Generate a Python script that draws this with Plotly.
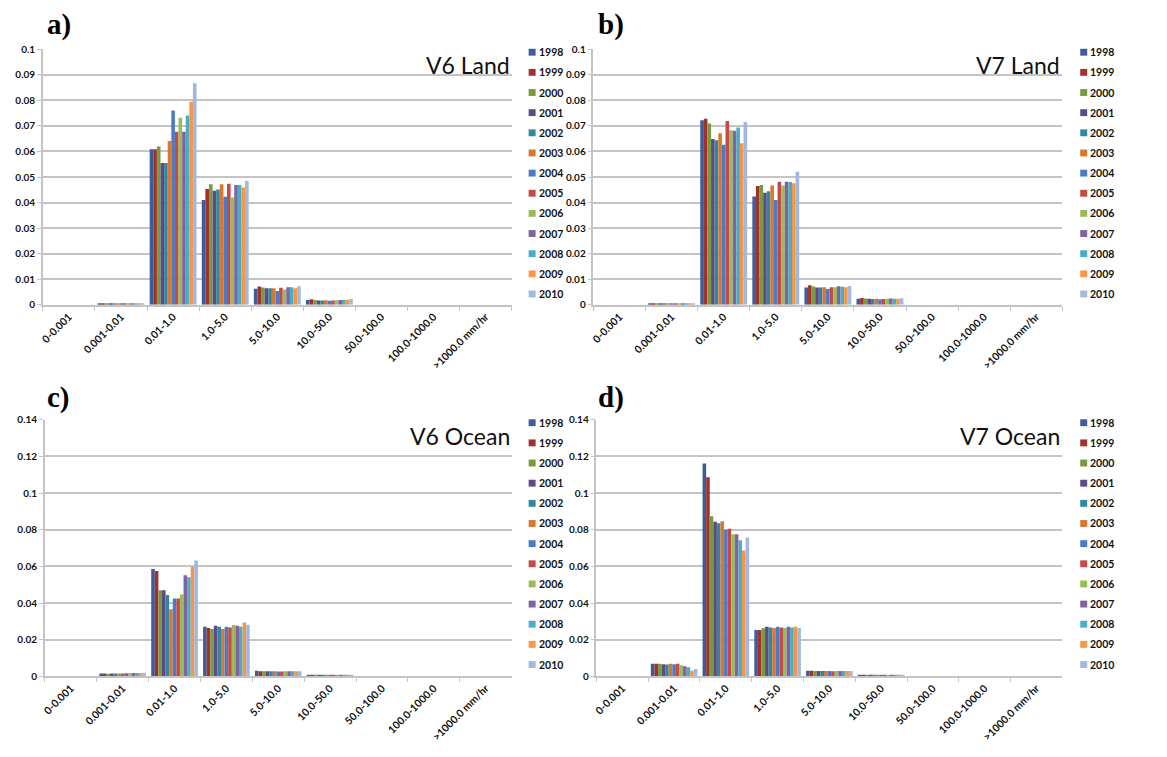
import plotly.graph_objects as go

categories = ["0-0.001", "0.001-0.01", "0.01-1.0", "1.0-5.0", "5.0-10.0",
              "10.0-50.0", "50.0-100.0", "100.0-1000.0", ">1000.0 mm/hr"]
years = ["1998", "1999", "2000", "2001", "2002", "2003", "2004",
         "2005", "2006", "2007", "2008", "2009", "2010"]
colors = ["#3D5C9C", "#A0312E", "#7A9A3E", "#5E4A86", "#2F88A0", "#D9772F",
          "#4A7BC8", "#C44A47", "#9BBB59", "#8064A2", "#4BACC6", "#F79646", "#A3B8DE"]

zeros = [0.0] * 13

# V6 Land (values per category, one per year 1998..2010)
v6_land_c1 = [0.0003, 0.0003, 0.0003, 0.0003, 0.0003, 0.0003, 0.0003, 0.0003, 0.0004, 0.0003, 0.0003, 0.0003, 0.0003]
v6_land_c2 = [0.0609, 0.0609, 0.0619, 0.0555, 0.0555, 0.0641, 0.0760, 0.0677, 0.0732, 0.0677, 0.0741, 0.0795, 0.0867]
v6_land_c3 = [0.0410, 0.0453, 0.0472, 0.0446, 0.0451, 0.0472, 0.0423, 0.0474, 0.0420, 0.0469, 0.0469, 0.0459, 0.0485]
v6_land_c4 = [0.0063, 0.0072, 0.0068, 0.0065, 0.0065, 0.0065, 0.0054, 0.0067, 0.0060, 0.0069, 0.0069, 0.0065, 0.0073]
v6_land_c5 = [0.0019, 0.0022, 0.0019, 0.0017, 0.0017, 0.0018, 0.0016, 0.0017, 0.0018, 0.0019, 0.0019, 0.0019, 0.0023]

# V7 Land
v7_land_c1 = [0.0005, 0.0004, 0.0004, 0.0004, 0.0004, 0.0004, 0.0004, 0.0004, 0.0004, 0.0004, 0.0004, 0.0004, 0.0004]
v7_land_c2 = [0.0722, 0.0728, 0.0709, 0.0649, 0.0644, 0.0671, 0.0626, 0.0719, 0.0683, 0.0681, 0.0694, 0.0632, 0.0715]
v7_land_c3 = [0.0424, 0.0465, 0.0469, 0.0438, 0.0444, 0.0467, 0.0410, 0.0482, 0.0467, 0.0482, 0.0481, 0.0476, 0.0521]
v7_land_c4 = [0.0068, 0.0076, 0.0072, 0.0068, 0.0068, 0.0069, 0.0062, 0.0069, 0.0069, 0.0073, 0.0071, 0.0069, 0.0074]
v7_land_c5 = [0.0024, 0.0027, 0.0025, 0.0024, 0.0023, 0.0024, 0.0022, 0.0023, 0.0024, 0.0025, 0.0024, 0.0024, 0.0026]

# V6 Ocean
v6_ocean_c1 = [0.0015, 0.0015, 0.0014, 0.0015, 0.0015, 0.0015, 0.0016, 0.0017, 0.0018, 0.0018, 0.0018, 0.0018, 0.0019]
v6_ocean_c2 = [0.0586, 0.0575, 0.0470, 0.0470, 0.0444, 0.0366, 0.0425, 0.0425, 0.0446, 0.0552, 0.0540, 0.0596, 0.0632]
v6_ocean_c3 = [0.0271, 0.0264, 0.0258, 0.0276, 0.0271, 0.0258, 0.0271, 0.0267, 0.0280, 0.0276, 0.0271, 0.0294, 0.0281]
v6_ocean_c4 = [0.0030, 0.0028, 0.0027, 0.0027, 0.0027, 0.0027, 0.0026, 0.0026, 0.0027, 0.0027, 0.0027, 0.0028, 0.0028]
v6_ocean_c5 = [0.0009, 0.0008, 0.0008, 0.0008, 0.0008, 0.0008, 0.0008, 0.0008, 0.0008, 0.0008, 0.0008, 0.0008, 0.0008]

# V7 Ocean
v7_ocean_c1 = [0.0068, 0.0069, 0.0068, 0.0066, 0.0065, 0.0068, 0.0066, 0.0069, 0.0060, 0.0055, 0.0050, 0.0030, 0.0040]
v7_ocean_c2 = [0.1161, 0.1086, 0.0873, 0.0843, 0.0836, 0.0846, 0.0800, 0.0805, 0.0775, 0.0775, 0.0743, 0.0686, 0.0757]
v7_ocean_c3 = [0.0253, 0.0253, 0.0262, 0.0271, 0.0266, 0.0264, 0.0270, 0.0266, 0.0264, 0.0270, 0.0266, 0.0271, 0.0264]
v7_ocean_c4 = [0.0031, 0.0030, 0.0029, 0.0029, 0.0029, 0.0029, 0.0029, 0.0028, 0.0029, 0.0029, 0.0029, 0.0029, 0.0029]
v7_ocean_c5 = [0.0009, 0.0009, 0.0008, 0.0008, 0.0008, 0.0008, 0.0008, 0.0008, 0.0008, 0.0008, 0.0008, 0.0008, 0.0008]

panels = [
    dict(name="V6 Land", label="a)", ymax=0.1, dtick=0.01,
         data=[zeros, v6_land_c1, v6_land_c2, v6_land_c3, v6_land_c4, v6_land_c5, zeros, zeros, zeros]),
    dict(name="V7 Land", label="b)", ymax=0.1, dtick=0.01,
         data=[zeros, v7_land_c1, v7_land_c2, v7_land_c3, v7_land_c4, v7_land_c5, zeros, zeros, zeros]),
    dict(name="V6 Ocean", label="c)", ymax=0.14, dtick=0.02,
         data=[zeros, v6_ocean_c1, v6_ocean_c2, v6_ocean_c3, v6_ocean_c4, v6_ocean_c5, zeros, zeros, zeros]),
    dict(name="V7 Ocean", label="d)", ymax=0.14, dtick=0.02,
         data=[zeros, v7_ocean_c1, v7_ocean_c2, v7_ocean_c3, v7_ocean_c4, v7_ocean_c5, zeros, zeros, zeros]),
]

W, H = 1167, 757
# pixel layout: (x0, x1, ytop, ybottom, legend_x, legend_first_center, label_x, label_y)
geom = [
    (40, 510, 43, 303, 527, 46, 42, 18),
    (592, 1062, 43, 303, 1080, 46, 595, 18),
    (42, 510, 420, 681, 527, 423, 42, 397),
    (595, 1062, 420, 681, 1080, 423, 595, 397),
]
LEG_STEP = 20.5
SQ = 7

FONT = "Lato, Liberation Sans, Arial, sans-serif"
GRID = "#C4C4C4"

fig = go.Figure()
layout = dict(
    width=W, height=H, margin=dict(l=0, r=0, t=0, b=0),
    paper_bgcolor="white", plot_bgcolor="white",
    barmode="group", bargap=0.1, bargroupgap=0.0,
    font=dict(family=FONT, color="#000000"),
    showlegend=False,
    annotations=[], shapes=[],
)

for i, (p, g) in enumerate(zip(panels, geom)):
    n = "" if i == 0 else str(i + 1)
    x0, x1, yt, yb, lx, lc, ax, ay = g
    for j, yr in enumerate(years):
        vals = [p["data"][k][j] for k in range(len(categories))]
        fig.add_trace(go.Bar(
            x=categories, y=vals, name=yr,
            marker=dict(color=colors[j], line=dict(width=0)),
            xaxis="x" + n, yaxis="y" + n,
        ))
        # legend entry: colour swatch + year label
        cy = lc + j * LEG_STEP
        layout["shapes"].append(dict(
            type="rect", xref="paper", yref="paper",
            x0=lx / W, x1=(lx + SQ) / W,
            y0=1 - (cy + SQ / 2) / H, y1=1 - (cy - SQ / 2) / H,
            fillcolor=colors[j], line=dict(width=0),
        ))
        layout["annotations"].append(dict(
            text="<b>" + yr + "</b>", xref="paper", yref="paper",
            x=(lx + SQ + 1) / W, y=1 - cy / H, xanchor="left", yanchor="middle",
            showarrow=False, font=dict(family=FONT, size=10.5, color="#111111"),
        ))
    layout["xaxis" + n] = dict(
        domain=[x0 / W, x1 / W], anchor="y" + n,
        type="category", tickson="boundaries", ticks="outside", ticklen=4,
        tickcolor=GRID, showline=True, linecolor=GRID, linewidth=1.5,
        showgrid=False, tickangle=-45,
        tickfont=dict(family=FONT, size=10.5, weight="bold", color="#111111"),
    )
    layout["yaxis" + n] = dict(
        domain=[1 - yb / H, 1 - yt / H], anchor="x" + n,
        range=[0, p["ymax"]], dtick=p["dtick"], tick0=0,
        showgrid=True, gridcolor=GRID, gridwidth=1.5,
        showline=True, linecolor=GRID, linewidth=1.5,
        ticks="outside", ticklen=4, tickcolor=GRID,
        zeroline=False,
        tickfont=dict(family=FONT, size=10, weight="bold", color="#111111"),
    )
    layout["annotations"].append(dict(
        text=p["name"], xref=f"x{n} domain", yref=f"y{n} domain",
        x=1, y=1, xanchor="right", yanchor="top", showarrow=False,
        font=dict(family=FONT, size=23, color="#111111"),
    ))
    layout["annotations"].append(dict(
        text="<b>" + p["label"] + "</b>", xref="paper", yref="paper",
        x=ax / W, y=1 - ay / H, xanchor="left", yanchor="middle", showarrow=False,
        font=dict(family="Liberation Serif, Times New Roman, serif", size=29, color="#000000"),
    ))

fig.update_layout(**layout)
fig.write_html(
    "out.html",
    config={"displayModeBar": False},
    post_script="document.body.style.margin='0px';document.body.style.overflow='hidden';",
)
